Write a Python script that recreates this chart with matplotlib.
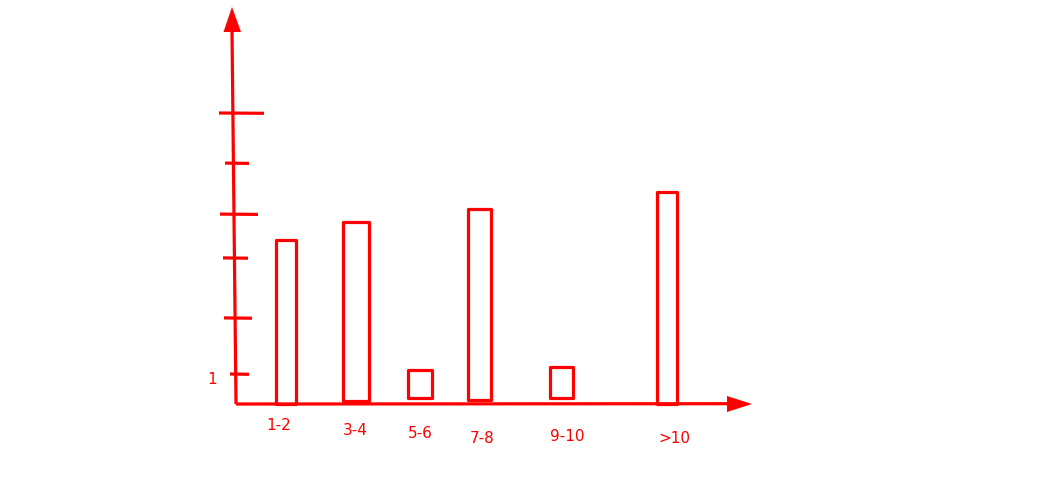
import matplotlib
matplotlib.use("Agg")
import matplotlib.pyplot as plt
from matplotlib.patches import Polygon

# ---- data ----
categories = ["1-2", "3-4", "5-6", "7-8", "9-10", ">10"]
values = [5.45, 6.05, 1.13, 6.5, 1.23, 7.07]      # bar top height (units above baseline)
bottoms = [0.0, 0.1, 0.2, 0.13, 0.2, 0.0]         # sketchy floating bottoms
tick_values = [1, 2.87, 4.87, 6.33, 8.03, 9.7]
tick_labels = ["1", "", "", "", "", ""]

# ---- layout (pixel-like x, unit y) ----
RED = "#ff0000"
PX = 30.0  # pixels per unit
bar_x = [285.5, 356, 420, 479.5, 561.5, 667]
bar_w = [20, 26, 24, 23, 23, 20]
label_dy = [0.72, 0.88, 0.98, 1.15, 1.07, 1.15]
label_dx = [-6.5, -1, 0.5, 2.5, 5.5, 7]
tick_x = [(230, 249), (224, 252), (223, 248), (220, 258), (225, 249), (219, 264)]

fig = plt.figure(figsize=(10.53, 4.99), dpi=100)
ax = fig.add_axes([0, 0, 1, 1])
ax.set_xlim(0, 1053)
ax.set_ylim(-(499 - 404) / PX, 404 / PX)
ax.axis("off")

lw = 2.3
ax.bar(bar_x, [v - b for v, b in zip(values, bottoms)], width=bar_w, bottom=bottoms,
       fill=False, edgecolor=RED, linewidth=lw, joinstyle="round", zorder=3)

# axes lines
ax.plot([236, 232], [0, (404 - 30) / PX], color=RED, lw=lw, solid_capstyle="butt")
ax.plot([236, 730], [0, 0.01], color=RED, lw=lw, solid_capstyle="butt")
# arrow heads
ax.add_patch(Polygon([(232, (404 - 7) / PX), (223.5, (404 - 32) / PX), (241, (404 - 32) / PX)],
                     closed=True, color=RED, lw=0))
ax.add_patch(Polygon([(752, 0.0), (727, 8 / PX), (727, -8 / PX)], closed=True, color=RED, lw=0))

# y ticks
for tv, (x0, x1), tl in zip(tick_values, tick_x, tick_labels):
    ax.plot([x0, x1], [tv, tv - 0.01], color=RED, lw=lw, solid_capstyle="butt")
    if tl:
        ax.text(212, tv - 0.17, tl, color=RED, fontsize=11, ha="center", va="center")

# category labels
for x, c, dy, dx in zip(bar_x, categories, label_dy, label_dx):
    ax.text(x + dx, -dy, c, color=RED, fontsize=11, ha="center", va="center")

fig.savefig("out.png", dpi=100)
